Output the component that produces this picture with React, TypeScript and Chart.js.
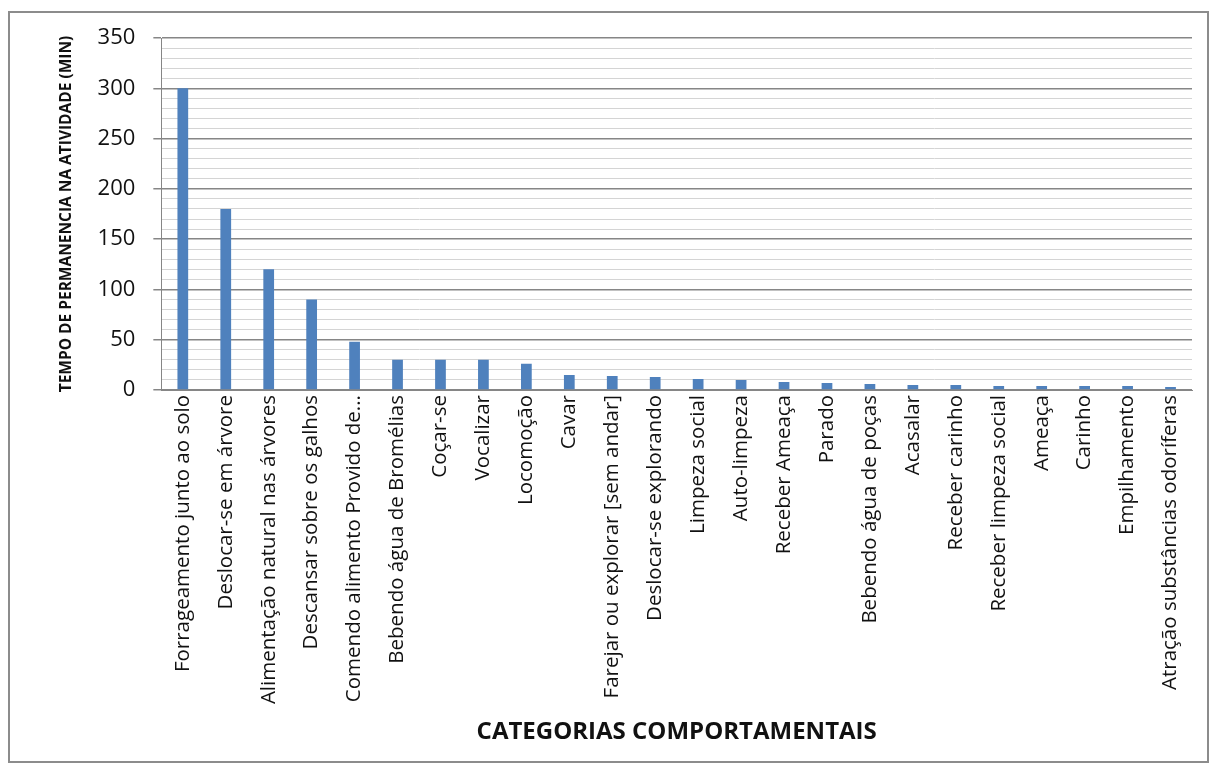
import React, { useEffect, useRef } from "react";
import { Chart, registerables } from "chart.js";

Chart.register(...registerables);

const categories = [
  "Forrageamento junto ao solo",
  "Deslocar-se em árvore",
  "Alimentação natural nas árvores",
  "Descansar sobre os galhos",
  "Comendo alimento Provido de...",
  "Bebendo água de Bromélias",
  "Coçar-se",
  "Vocalizar",
  "Locomoção",
  "Cavar",
  "Farejar ou explorar [sem andar]",
  "Deslocar-se explorando",
  "Limpeza social",
  "Auto-limpeza",
  "Receber Ameaça",
  "Parado",
  "Bebendo água de poças",
  "Acasalar",
  "Receber carinho",
  "Receber limpeza social",
  "Ameaça",
  "Carinho",
  "Empilhamento",
  "Atração substâncias odoríferas",
];

const minutes = [300, 180, 120, 90, 48, 30, 30, 30, 26, 15, 14, 13, 11, 10, 8, 7, 6, 5, 5, 4, 4, 4, 4, 3];

const yMax = 350;
const yStep = 10;
const yLabelStep = 50;

const FONT = "'Open Sans', 'Noto Sans', sans-serif";

export default function App() {
  const ref = useRef<HTMLCanvasElement | null>(null);

  useEffect(() => {
    document.body.style.margin = "0";
    const canvas = ref.current!;
    const chart = new Chart(canvas, {
      type: "bar",
      data: {
        labels: categories,
        datasets: [
          {
            label: "Tempo",
            data: minutes,
            backgroundColor: "#4F81BD",
            borderWidth: 0,
            categoryPercentage: 1,
            barPercentage: 0.25,
          },
        ],
      },
      options: {
        responsive: false,
        animation: false,
        devicePixelRatio: 1,
        layout: { padding: { left: 57, right: 19, top: 38, bottom: 17 } },
        plugins: {
          legend: { display: false },
          tooltip: { enabled: false },
        },
        scales: {
          x: {
            afterFit: (scale: any) => {
              scale.height = 357;
            },
            grid: { display: false, drawTicks: false },
            border: { display: true, color: "#868686", width: 1 },
            ticks: {
              maxRotation: 90,
              minRotation: 90,
              autoSkip: false,
              padding: 5,
              color: "#111",
              font: { family: FONT, size: 20.5 },
            },
            title: {
              display: true,
              text: "CATEGORIAS COMPORTAMENTAIS",
              color: "#111",
              font: { family: FONT, size: 24, weight: "bold" },
              padding: { top: 2, bottom: 0 },
            },
          },
          y: {
            min: 0,
            max: yMax,
            ticks: {
              stepSize: yStep,
              autoSkip: false,
              padding: 18,
              color: "#111",
              font: { family: FONT, size: 22 },
              callback: (v: any) => (Number(v) % yLabelStep === 0 ? String(v) : ""),
            },
            grid: {
              color: (ctx: any) => (ctx.tick && ctx.tick.value % yLabelStep === 0 ? "#868686" : "#d4d4d4"),
              lineWidth: (ctx: any) => (ctx.tick && ctx.tick.value % yLabelStep === 0 ? 1.5 : 1),
              tickColor: (ctx: any) => (ctx.tick && ctx.tick.value % yLabelStep === 0 ? "#868686" : "rgba(0,0,0,0)"),
              tickLength: 8,
            },
            border: { display: true, color: "#868686", width: 1 },
            title: {
              display: true,
              text: "TEMPO DE PERMANENCIA NA ATIVIDADE (MIN)",
              color: "#111",
              font: { family: FONT, size: 15.5, weight: "bold" },
              padding: { top: 0, bottom: 4 },
            },
          },
        },
      },
    });
    return () => chart.destroy();
  }, []);

  return (
    <div style={{ position: "absolute", left: 0, top: 0, width: 1211, height: 764 }}>
      <canvas ref={ref} width={1211} height={764} style={{ position: "absolute", left: 0, top: 0 }} />
      <div
        style={{
          position: "absolute",
          left: 8,
          top: 11,
          width: 1201,
          height: 752,
          border: "2px solid #8c8c8c",
          boxSizing: "border-box",
          pointerEvents: "none",
        }}
      />
    </div>
  );
}
